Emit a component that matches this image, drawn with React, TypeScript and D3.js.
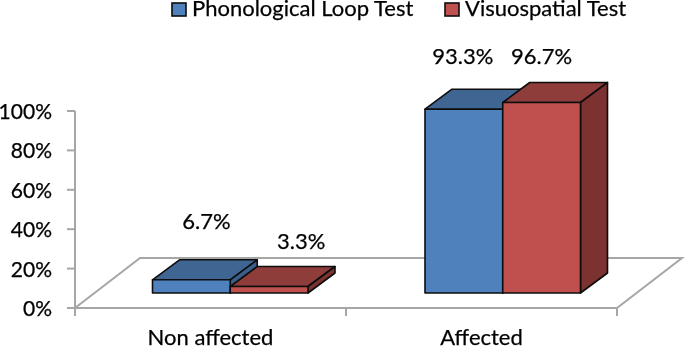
import React from 'react';
import * as d3 from 'd3';

const categories = ['Non affected', 'Affected'];
const seriesNames = ['Phonological Loop Test', 'Visuospatial Test'];
const phonological = [6.7, 93.3];
const visuospatial = [3.3, 96.7];
const yTicks = [0, 20, 40, 60, 80, 100];

const seriesValues = [phonological, visuospatial];
const fronts = ['#4F81BD', '#C0504D'];
const tops = ['#3F6592', '#8F3D3B'];
const sides = ['#3A5F8C', '#7B3230'];

const width = 685;
const height = 347;
const font = 'Lato, "Open Sans", sans-serif';
const grey = '#A6A6A6';

// floor depth of the 3d box
const floorDx = 65;
const floorDy = -50;
const barDx = 27;
const barDy = -20;
const barLift = 15; // bars stand this far above the front edge of the floor

export default function App() {
  const x = d3.scaleBand().domain(categories).range([75, 617]);
  const xBars = d3.scaleBand().domain(categories).range([93.75, 638.75]);
  const y = d3.scaleLinear().domain([0, 100]).range([308, 111]);
  const inner = d3.scaleBand().domain(seriesNames).range([0, 155.5]);
  const base = y(0);
  const barLeft = (cat: string) => xBars(cat)! + xBars.bandwidth() / 2 - 77.5;
  const poly = d3.line();

  // value labels: shift from bar centre, and baseline
  const labelDx = [[15, 32], [-1, 0]];
  const labelY = [229, 249, 64, 64];
  const textProps = { fill: '#000', stroke: '#000', strokeWidth: 0.25 };

  return (
    <svg
      width={width}
      height={height}
      style={{ position: 'absolute', left: 0, top: 0, fontFamily: font, filter: 'blur(0.35px)' }}
    >
      {/* floor */}
      <path
        d={poly([
          [x.range()[0], base],
          [x.range()[0] + floorDx, base + floorDy],
          [x.range()[1] + floorDx, base + floorDy],
          [x.range()[1], base],
        ])! + 'Z'}
        fill="#fff"
        stroke={grey}
        strokeWidth={2}
      />
      {/* y axis */}
      <line x1={75} x2={75} y1={y(100)} y2={base} stroke={grey} strokeWidth={2} />
      {yTicks.map((t) => (
        <g key={t}>
          <line x1={67} x2={75} y1={y(t)} y2={y(t)} stroke={grey} strokeWidth={2} />
          <text x={52} y={y(t) + 8} textAnchor="end" fontSize={21} {...textProps}>
            {t}%
          </text>
        </g>
      ))}
      {/* x axis ticks */}
      {[...categories.map((c) => x(c)!), x.range()[1]].map((px) => (
        <line key={px} x1={px} x2={px} y1={base} y2={base + 8} stroke={grey} strokeWidth={2} />
      ))}
      {categories.map((c) => (
        <text
          key={c}
          x={x(c)! + x.bandwidth() / 2}
          y={345}
          textAnchor="middle"
          fontSize={22}
          {...textProps}
        >
          {c}
        </text>
      ))}
      {/* bars, back to front */}
      {categories.map((c, ci) =>
        seriesNames.map((s, si) => {
          const x0 = barLeft(c) + inner(s)!;
          const x1 = x0 + inner.bandwidth();
          const yBottom = base - barLift;
          const yTop = y(seriesValues[si][ci]) - barLift;
          return (
            <g key={c + s} stroke="#0D0D0D" strokeWidth={1.6} strokeLinejoin="round">
              <path
                d={poly([
                  [x0, yTop],
                  [x0 + barDx, yTop + barDy],
                  [x1 + barDx, yTop + barDy],
                  [x1, yTop],
                ])! + 'Z'}
                fill={tops[si]}
              />
              <path
                d={poly([
                  [x1, yTop],
                  [x1 + barDx, yTop + barDy],
                  [x1 + barDx, yBottom + barDy],
                  [x1, yBottom],
                ])! + 'Z'}
                fill={sides[si]}
              />
              <rect x={x0} y={yTop} width={x1 - x0} height={yBottom - yTop} fill={fronts[si]} />
            </g>
          );
        })
      )}
      {/* value labels */}
      {categories.map((c, ci) =>
        seriesNames.map((s, si) => (
          <text
            key={c + s}
            x={barLeft(c) + inner(s)! + inner.bandwidth() / 2 + labelDx[ci][si]}
            y={labelY[ci * 2 + si]}
            textAnchor="middle"
            fontSize={22}
            {...textProps}
          >
            {seriesValues[si][ci]}%
          </text>
        ))
      )}
      {/* legend */}
      {seriesNames.map((s, si) => {
        const lx = [172, 445][si];
        return (
          <g key={s}>
            <rect x={lx} y={3} width={14} height={13} fill={fronts[si]} stroke="#0D0D0D" strokeWidth={1.6} />
            <text x={lx + 20} y={16} fontSize={22} {...textProps}>
              {s}
            </text>
          </g>
        );
      })}
    </svg>
  );
}
